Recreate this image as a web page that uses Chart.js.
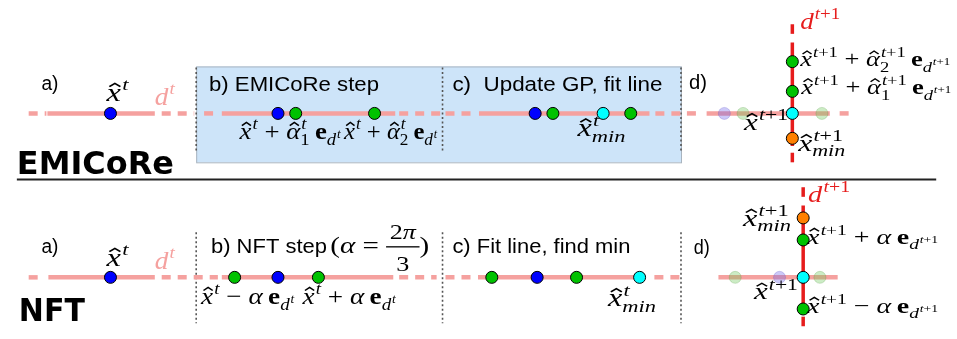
<!DOCTYPE html>
<html>
<head>
<meta charset="utf-8">
<script src="https://cdn.jsdelivr.net/npm/chart.js@4"></script>
<style>
  body { margin: 0; background: #fff; }
  #wrap { width: 957px; height: 339px; }
</style>
</head>
<body>
<div id="wrap"><canvas id="chart"></canvas></div>
<script>
// search-line height of each row (EMICoRe on top, NFT below)
const rowY = [111, 282];

// EMICoRe row: positions of the query points along d^t
const emiBlue = [105, 275, 536];
const emiGreen = [293, 373, 554, 633];
const emiCyan = [605];
const emiFadedBlue = [728];
const emiFadedGreen = [747, 827];
// EMICoRe panel d): points along the new direction d^{t+1}
const emiNewX = 797;
const emiNewGreen = [57, 88];
const emiNewCyan = [111];
const emiNewOrange = [137];

// NFT row
const nftBlue = [105, 275, 538];
const nftGreen = [231, 316, 492, 578];
const nftCyan = [642];
const nftFadedBlue = [784];
const nftFadedGreen = [739, 825];
const nftNewX = 808;
const nftNewGreen = [243, 315];
const nftNewCyan = [282];
const nftNewOrange = [220];

// line pieces [from, to]
const emiSolid = [[41, 150], [218, 394], [479, 652], [710, 835]];
const emiDashed = [[22, 40], [157, 190], [200, 210], [398, 440], [445, 474], [658, 684], [690, 702], [845, 856]];
const emiNewSolid = [[37, 145]];
const emiNewDashed = [[18, 28], [152, 162]];
const nftSolid = [[42, 150], [218, 392], [478, 647], [722, 843]];
const nftDashed = [[22, 32], [157, 214], [398, 436], [445, 472], [657, 684]];
const nftNewSolid = [[207, 319]];
const nftNewDashed = [[188, 198], [323, 333]];

// panel dividers
const dividerX = [192, 442, 684];
const dividerSpan = [[63, 152], [235, 330]];

const PINK = '#f5a19f';
const RED = '#e61c1c';

const datasets = [];

function hLines(pieces, y, dashed) {
    pieces.forEach(p => datasets.push({
        type: 'line', data: [{x: p[0], y}, {x: p[1], y}],
        borderColor: PINK, borderWidth: 4.5, pointRadius: 0,
        borderDash: dashed ? [9, 7] : [], borderCapStyle: 'butt', order: 3
    }));
}
function vLines(pieces, x, dashed) {
    pieces.forEach(p => datasets.push({
        type: 'line', data: [{x, y: p[0]}, {x, y: p[1]}],
        borderColor: RED, borderWidth: 3.5, pointRadius: 0,
        borderDash: dashed ? [10, 8] : [], borderCapStyle: 'butt', order: 2
    }));
}
function dots(xs, ys, fill, border, order) {
    datasets.push({
        type: 'scatter',
        data: xs.map((x, i) => ({x, y: Array.isArray(ys) ? ys[i] : ys})),
        backgroundColor: fill, borderColor: border, borderWidth: 1,
        pointRadius: 6, pointHoverRadius: 6, order: order === undefined ? 0 : order
    });
}

hLines(emiSolid, rowY[0], false);
hLines(emiDashed, rowY[0], true);
hLines(nftSolid, rowY[1], false);
hLines(nftDashed, rowY[1], true);
vLines(emiNewSolid, emiNewX, false);
vLines(emiNewDashed, emiNewX, true);
vLines(nftNewSolid, nftNewX, false);
vLines(nftNewDashed, nftNewX, true);

dividerSpan.forEach(s => dividerX.forEach(x => datasets.push({
    type: 'line', data: [{x, y: s[0]}, {x, y: s[1]}],
    borderColor: '#555', borderWidth: 1.6, borderDash: [2, 2.5], pointRadius: 0, order: 4
})));
datasets.push({
    type: 'line', data: [{x: 10, y: 180}, {x: 943, y: 180}],
    borderColor: '#222', borderWidth: 2, pointRadius: 0, order: 4
});

const GREEN = '#00c200', BLUE = '#0000ff', CYAN = '#00ffff', ORANGE = '#ff8000';
dots(emiBlue, rowY[0], BLUE, '#000');
dots(emiGreen, rowY[0], GREEN, '#000');
dots(emiCyan, rowY[0], CYAN, '#000');
dots(emiFadedBlue, rowY[0], 'rgba(110,100,235,0.35)', 'rgba(90,80,200,0.25)', 1);
dots(emiFadedGreen, rowY[0], 'rgba(110,200,90,0.35)', 'rgba(80,150,60,0.25)', 1);
dots(emiNewGreen.map(() => emiNewX), emiNewGreen, GREEN, '#000');
dots(emiNewCyan.map(() => emiNewX), emiNewCyan, CYAN, '#000');
dots(emiNewOrange.map(() => emiNewX), emiNewOrange, ORANGE, '#000');
dots(nftBlue, rowY[1], BLUE, '#000');
dots(nftGreen, rowY[1], GREEN, '#000');
dots(nftCyan, rowY[1], CYAN, '#000');
dots(nftFadedBlue, rowY[1], 'rgba(110,100,235,0.35)', 'rgba(90,80,200,0.25)', 1);
dots(nftFadedGreen, rowY[1], 'rgba(110,200,90,0.35)', 'rgba(80,150,60,0.25)', 1);
dots(nftNewGreen.map(() => nftNewX), nftNewGreen, GREEN, '#000');
dots(nftNewCyan.map(() => nftNewX), nftNewCyan, CYAN, '#000');
dots(nftNewOrange.map(() => nftNewX), nftNewOrange, ORANGE, '#000');

// --- small math typesetter for the labels ---
const I = (t, o) => Object.assign({t, f: 'i'}, o);
const R = (t, o) => Object.assign({t, f: 'r'}, o);
const B = (t, o) => Object.assign({t, f: 'b'}, o);
const S = t => ({t, f: 's'});
const SP = k => ({sp: k});
const T = [I('t')];
const T1 = [I('t'), R('+1')];
const xhat = (sup, sub) => I('x', {hat: true, sup, sub});
const ed = sup => B('e', {sub: [I('d', {sup})]});

const mXt = [xhat(T)];
const mDt = [I('d', {sup: T})];
const mDt1 = [I('d', {sup: T1})];
const mXtMin = [xhat(T, [I('min')])];
const mXt1 = [xhat(T1)];
const mXt1Min = [xhat(T1, [I('min')])];
const mEmi = (k, sup) => [xhat(sup), R(' + '), I('α', {hat: true, sup, sub: [R(k)]}), SP(0.2), ed(sup)];
const mNft = (op, sup) => [xhat(sup), R(' ' + op + ' '), I('α'), SP(0.2), ed(sup)];
const mAlpha = [R('('), I('α'), R(' = '), {frac: [[R('2'), I('π')], [R('3')]]}, R(')')];

// x, baseline, width, font size, content, colour
const labels = [
    [35, 87, 17, 20, [S('a)')]],
    [101, 98, 22, 25, mXt],
    [150, 102, 20, 25, mDt, PINK],
    [205, 88, 170, 20, [S('b) EMICoRe step')]],
    [236, 138, 101, 24, mEmi('1', T)],
    [342, 138, 93, 24, mEmi('2', T)],
    [452, 88, 210, 20, [S('c)  Update GP, fit line')]],
    [579, 135, 48, 25, mXtMin],
    [692, 86, 18, 20, [S('d)')]],
    [805, 23, 40, 24, mDt1, RED],
    [805, 62, 150, 22, mEmi('2', T1)],
    [806, 91, 150, 22, mEmi('1', T1)],
    [748, 128, 44, 23, mXt1],
    [803, 150, 47, 23, mXt1Min],
    [35, 257, 17, 20, [S('a)')]],
    [101, 270, 22, 25, mXt],
    [150, 273, 20, 25, mDt, PINK],
    [207, 257, 116, 20, [S('b) NFT step')]],
    [328, 257, 99, 24, mAlpha],
    [197, 310, 93, 24, mNft('−', T)],
    [300, 310, 93, 24, mNft('+', T)],
    [452, 257, 178, 20, [S('c) Fit line, find min')]],
    [610, 312, 48, 25, mXtMin],
    [697, 258, 16, 20, [S('d)')]],
    [813, 203, 42, 24, mDt1, RED],
    [747, 228, 48, 23, mXt1Min],
    [812, 247, 131, 22, mNft('+', T1)],
    [758, 305, 44, 23, mXt1],
    [812, 319, 131, 22, mNft('−', T1)]
];

function fontFor(f, size) {
    if (f === 's') return size + 'px "Liberation Sans", Arial, sans-serif';
    if (f === 'i') return 'italic ' + size + 'px "Liberation Serif", serif';
    if (f === 'b') return 'bold ' + size + 'px "Liberation Serif", serif';
    return size + 'px "Liberation Serif", serif';
}

function drawHat(ctx, cx, top, size) {
    const w = size * 0.17, h = size * 0.13;
    ctx.beginPath();
    ctx.moveTo(cx - w, top + h);
    ctx.lineTo(cx, top);
    ctx.lineTo(cx + w, top + h);
    ctx.lineWidth = Math.max(1, size * 0.06);
    ctx.stroke();
}

function mathRun(ctx, atoms, x, y, size, draw) {
    let cx = x;
    for (const a of atoms) {
        if (a.sp) { cx += a.sp * size; continue; }
        if (a.frac) {
            const fs = size * 0.9;
            const wn = mathRun(ctx, a.frac[0], 0, 0, fs, false);
            const wd = mathRun(ctx, a.frac[1], 0, 0, fs, false);
            const w = Math.max(wn, wd) + size * 0.25;
            if (draw) {
                mathRun(ctx, a.frac[0], cx + (w - wn) / 2, y - size * 0.6, fs, true);
                mathRun(ctx, a.frac[1], cx + (w - wd) / 2, y + size * 0.72, fs, true);
                ctx.fillRect(cx, y - size * 0.3, w, 1.3);
            }
            cx += w;
            continue;
        }
        ctx.font = fontFor(a.f, size);
        const w = ctx.measureText(a.t).width;
        if (draw) {
            ctx.fillText(a.t, cx, y);
            if (a.hat) drawHat(ctx, cx + w * 0.58, y - size * 0.7, size);
        }
        cx += w;
        let sw = 0;
        if (a.sup) sw = mathRun(ctx, a.sup, cx + size * 0.04, y - size * 0.42, size * 0.7, draw) + size * 0.04;
        if (a.sub) sw = Math.max(sw, mathRun(ctx, a.sub, cx, y + size * 0.24, size * 0.7, draw));
        cx += sw;
    }
    return cx - x;
}

const panelBox = {
    id: 'panelBox',
    beforeDatasetsDraw(chart) {
        const {ctx, scales: {x, y}} = chart;
        const x0 = x.getPixelForValue(192), x1 = x.getPixelForValue(684);
        const y0 = y.getPixelForValue(62), y1 = y.getPixelForValue(162);
        ctx.save();
        ctx.fillStyle = '#cde4f9';
        ctx.fillRect(x0, y0, x1 - x0, y1 - y0);
        ctx.strokeStyle = '#a9b4bf';
        ctx.lineWidth = 1;
        ctx.strokeRect(x0 + 0.5, y0 + 0.5, x1 - x0, y1 - y0);
        ctx.restore();
    }
};

const textLabels = {
    id: 'textLabels',
    afterDatasetsDraw(chart) {
        const {ctx, scales: {x, y}} = chart;
        ctx.save();
        ctx.textBaseline = 'alphabetic';
        labels.forEach(([lx, ly, tw, size, atoms, color]) => {
            ctx.fillStyle = color || '#000';
            ctx.strokeStyle = color || '#000';
            const w = mathRun(ctx, atoms, 0, 0, size, false);
            ctx.save();
            ctx.translate(x.getPixelForValue(lx), y.getPixelForValue(ly));
            ctx.scale(tw / w, 1);
            mathRun(ctx, atoms, 0, 0, size, true);
            ctx.restore();
        });
        ctx.fillStyle = '#000';
        ctx.font = 'bold 32px "DejaVu Sans", sans-serif';
        [['EMICoRe', 10, 174, 157], ['NFT', 12, 328, 66]].forEach(([t, tx, ty, tw]) => {
            const w = ctx.measureText(t).width;
            ctx.save();
            ctx.translate(x.getPixelForValue(tx), y.getPixelForValue(ty));
            ctx.scale(tw / w, 1);
            ctx.fillText(t, 0, 0);
            ctx.restore();
        });
        ctx.restore();
    }
};

new Chart(document.getElementById('chart'), {
    type: 'scatter',
    data: { datasets },
    options: {
        responsive: true,
        maintainAspectRatio: false,
        animation: false,
        layout: { padding: 0 },
        plugins: { legend: { display: false }, tooltip: { enabled: false } },
        scales: {
            x: { type: 'linear', min: 0, max: 957, display: false },
            y: { type: 'linear', min: 0, max: 339, reverse: true, display: false }
        }
    },
    plugins: [panelBox, textLabels]
});
</script>
</body>
</html>
